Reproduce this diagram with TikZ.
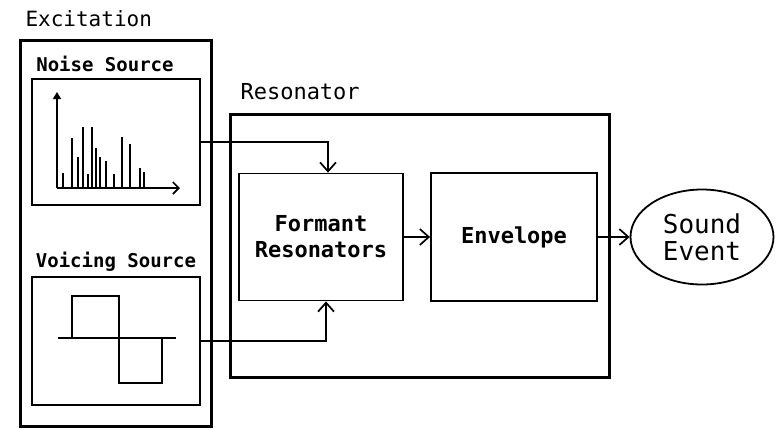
\documentclass[tikz,border=0pt]{standalone}
\usepackage{fontspec}
\setmainfont{DejaVu Sans Mono}
\usetikzlibrary{arrows.meta,shapes.geometric}

\begin{document}
\begin{tikzpicture}[x=1pt,y=-1pt,
  frame/.style={draw,line width=3pt,inner sep=0pt},
  box/.style={draw,line width=1.8pt,inner sep=0pt},
  tip/.style={line width=1.4pt,-{Straight Barb[length=9pt,width=16pt,line width=1.7pt]}},
  title/.style={anchor=west,font=\fontsize{21}{21}\selectfont},
  head/.style={font=\bfseries\fontsize{19}{19}\selectfont},
  inner/.style={align=center,font=\bfseries\fontsize{22}{26}\selectfont}]
\useasboundingbox (0,0) rectangle (776,429);

% excitation side
\node[title] (exctitle) at (22,19) {Excitation};
\node[frame,minimum width=191pt,minimum height=386pt] (exc) at (115.5,233.5) {};
\node[head] (noisetitle) at (105,64) {Noise Source};
\node[box,minimum width=168pt,minimum height=126pt] (noise) at (116,142) {};
\node[head] (voicetitle) at (116,262) {Voicing Source};
\node[box,minimum width=168pt,minimum height=128pt] (voice) at (116,341) {};

% noise spectrum
\draw[line width=1.4pt,-{Triangle[length=7pt,width=8pt]}] (57,188) -- (57,92);
\draw[line width=1.4pt,-{Straight Barb[length=6pt,width=12pt,line width=1.6pt]}] (57,188) -- (180,188);
\foreach \x/\h in {63/173,72/138,78/157,83/127,88/174,92/127,96/148,100/157,106/161,114/174,122/137,130/144,140/168,144/172}
  \draw[line width=1.3pt] (\x,188) -- (\x,\h);

% square wave
\draw[line width=1.4pt] (58,338) -- (176,338);
\draw[line width=1.4pt] (72,338) -- (72,296) -- (119,296) -- (119,383) -- (162,383) -- (162,338);

% resonator side
\node[title,font=\fontsize{22}{22}\selectfont] (restitle) at (237,92) {Resonator};
\node[frame,minimum width=379pt,minimum height=263pt] (res) at (419.5,245.5) {};
\node[box,inner,minimum width=164pt,minimum height=127pt] (formant) at (321,237) {Formant\\Resonators};
\node[box,inner,minimum width=166pt,minimum height=128pt] (env) at (514,237) {Envelope};
\node[ellipse,draw,line width=1.8pt,inner sep=0pt,minimum width=143pt,minimum height=95pt,
  align=center,font=\fontsize{26}{27}\selectfont] (sound) at (702,237) {Sound\\Event};

% connectors
\draw[tip] (noise.east) -| ([xshift=7pt]formant.north);
\draw[tip] (voice.east) -| ([xshift=5pt]formant.south);
\draw[tip] (formant) -- (env);
\draw[tip] (env) -- (sound);
\end{tikzpicture}
\end{document}
